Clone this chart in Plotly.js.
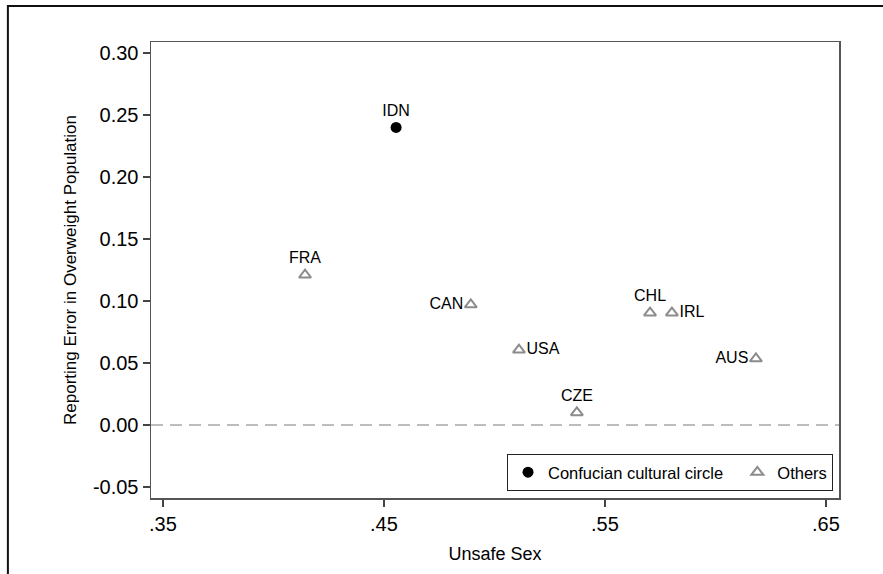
<!DOCTYPE html>
<html>
<head>
<meta charset="utf-8">
<script src="https://cdn.plot.ly/plotly-3.0.1.min.js"></script>
<style>html,body{margin:0;padding:0;background:#fff;}#chart{width:883px;height:574px;}</style>
</head>
<body>
<div id="chart"></div>
<script>
// Confucian cultural circle
const confCountries = ["IDN"];
const confX = [0.4555];
const confY = [0.240];
const confPos = ["top center"];

// Others
const otherCountries = ["FRA", "CAN", "USA", "CZE", "CHL", "IRL", "AUS"];
const otherX = [0.4143, 0.4893, 0.5111, 0.5373, 0.5704, 0.5803, 0.6183];
const otherY = [0.121, 0.097, 0.0605, 0.010, 0.0905, 0.0905, 0.0535];
const otherPos = ["top center", "middle left", "middle right", "top center", "top center", "middle right", "middle left"];

const xTickVals = [0.35, 0.45, 0.55, 0.65];
const xTickText = [".35", ".45", ".55", ".65"];
const yTickVals = [-0.05, 0, 0.05, 0.10, 0.15, 0.20, 0.25, 0.30];
const yTickText = ["-0.05", "0.00", "0.05", "0.10", "0.15", "0.20", "0.25", "0.30"];

const FONT = '"Liberation Sans", Arial, Helvetica, sans-serif';
const NB = '\u00a0';

const traces = [
  {
    type: 'scatter', mode: 'markers+text', name: 'Confucian cultural circle' + NB + NB,
    x: confX, y: confY, text: confCountries, textposition: confPos,
    textfont: {family: FONT, size: 16, color: '#000'},
    marker: {symbol: 'circle', size: 11, color: '#000'},
    cliponaxis: false
  },
  {
    type: 'scatter', mode: 'markers+text', name: 'Others',
    x: otherX, y: otherY, text: otherCountries, textposition: otherPos,
    textfont: {family: FONT, size: 16, color: '#000'},
    marker: {symbol: 'triangle-up-open', size: 10.5, color: '#8c8c8c', line: {width: 2, color: '#8c8c8c'}},
    cliponaxis: false
  }
];

const layout = {
  width: 883, height: 574,
  margin: {l: 151, r: 44, t: 42, b: 76, pad: 0},
  paper_bgcolor: '#fff', plot_bgcolor: '#fff',
  font: {family: FONT, color: '#000'},
  showlegend: true,
  legend: {
    orientation: 'h', x: 0.9913, xanchor: 'right', y: 0.0154, yanchor: 'bottom',
    bgcolor: '#fff', bordercolor: '#222', borderwidth: 1,
    font: {family: FONT, size: 16.5, color: '#000'}
  },
  xaxis: {
    range: [0.3446, 0.6559], tickvals: xTickVals, ticktext: xTickText,
    ticks: 'outside', ticklen: 7, tickwidth: 1.3, tickcolor: '#444',
    showgrid: false, zeroline: false, showline: true, linecolor: '#555', linewidth: 1.5, mirror: true,
    tickfont: {family: FONT, size: 20, color: '#000'},
    title: {text: 'Unsafe Sex', font: {family: FONT, size: 18, color: '#000'}, standoff: 14}
  },
  yaxis: {
    range: [-0.0589, 0.3089], tickvals: yTickVals, ticktext: yTickText,
    ticks: 'outside', ticklen: 7, tickwidth: 1.3, tickcolor: '#444',
    showgrid: false, zeroline: false, showline: true, linecolor: '#555', linewidth: 1.5, mirror: true,
    tickfont: {family: FONT, size: 20, color: '#000'},
    title: {text: 'Reporting Error in Overweight Population', font: {family: FONT, size: 17, color: '#000'}, standoff: 12}
  },
  shapes: [
    {type: 'line', xref: 'paper', x0: 0, x1: 1, yref: 'y', y0: 0, y1: 0,
     line: {color: '#bdbdbd', width: 2, dash: '12px,7px'}, layer: 'below'},
    {type: 'rect', xref: 'paper', yref: 'paper', x0: -0.208, x1: 2, y0: -2, y1: 1.0789,
     line: {color: '#111', width: 2}, fillcolor: 'rgba(0,0,0,0)'}
  ]
};

Plotly.newPlot('chart', traces, layout, {staticPlot: true, displayModeBar: false});
</script>
</body>
</html>
